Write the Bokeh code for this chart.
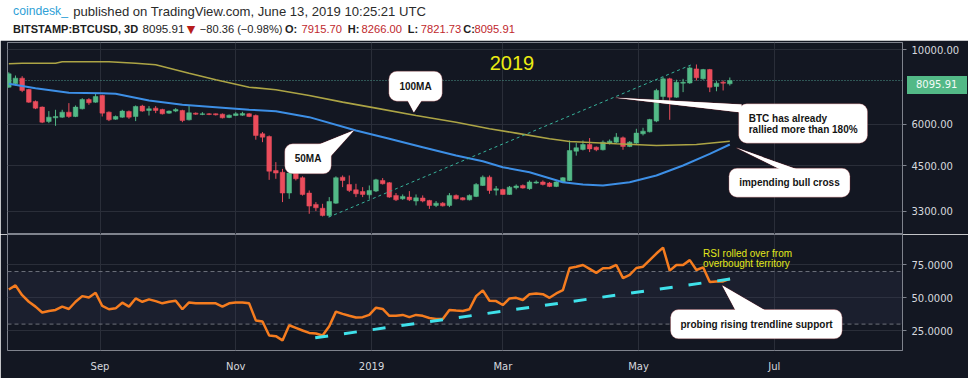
import numpy as np
import pandas as pd
from bokeh.plotting import figure
from bokeh.models import (ColumnDataSource, Range1d, FixedTicker, NumeralTickFormatter,
                          Span, BoxAnnotation, PolyAnnotation, Label, Div)
from bokeh.layouts import column
from bokeh.embed import file_html
from bokeh.resources import INLINE
from bokeh.core.properties import value

# ------------------------------------------------------------------ data
bar_start = "2018-07-22"          # first 3-day bar
bar_days = 3

opens = [7735, 7915, 8230, 7610, 7010, 6743, 6110, 6265, 6294, 6514,
         6322, 6666, 7106, 6978, 7305, 6514, 6208, 6294, 6545, 6322,
         6790, 6589, 6696, 6636, 6470, 6560, 6589, 6180, 6470, 6410,
         6440, 6440, 6425, 6280, 6365, 6380, 6440, 6365, 5613, 5510,
         4362, 4310, 3735, 4285, 4150, 3735, 3455, 3365, 3200, 3485,
         4167, 3960, 3820, 3775, 3690, 3785, 4073, 4010, 3675, 3590,
         3632, 3535, 3610, 3550, 3430, 3485, 3430, 3675, 3615, 3565,
         3650, 3935, 4167, 3810, 3830, 3700, 3875, 3935, 3850, 4000,
         4030, 4000, 3910, 4030, 4073, 4980, 5040, 5215, 5121, 5030,
         5265, 5300, 5460, 5145, 5265, 5613, 5690, 6125, 7250, 8190,
         7221, 7950, 7960, 8770, 8190, 8730, 7770, 8006, 7915.70]
highs = [8570, 8380, 8340, 7645, 7058, 6775, 6560, 6620, 6620, 6930,
         6820, 7170, 7170, 7389, 7340, 6545, 6365, 6620, 6589, 6820,
         6850, 6790, 6790, 6666, 6589, 6696, 6620, 6790, 6500, 6514,
         6470, 6455, 6455, 6410, 6514, 6530, 6470, 6410, 5680, 5550,
         4620, 4410, 4362, 4362, 4190, 3802, 3510, 3469, 3632, 4190,
         4215, 4215, 3981, 3890, 3935, 4120, 4140, 4030, 3735, 3700,
         3785, 3700, 3675, 3565, 3535, 3510, 3735, 3700, 3632, 3700,
         4000, 4215, 4215, 3920, 3850, 3920, 3963, 3963, 4073, 4073,
         4073, 4030, 4055, 4167, 5362, 5265, 5362, 5450, 5145, 5362,
         5400, 5640, 5510, 5337, 5810, 5850, 6222, 7650, 8286, 8250,
         8140, 8190, 8920, 9040, 8770, 8770, 8060, 8098, 8266.00]
lows = [7700, 7825, 7475, 6946, 6650, 6040, 6040, 5930, 6265, 6265,
        6294, 6636, 6850, 6946, 6322, 6125, 6180, 6265, 6222, 6125,
        6530, 6365, 6470, 6410, 6440, 6514, 6080, 6151, 6395, 6380,
        6380, 6365, 6237, 6250, 6337, 6350, 6294, 5390, 5300, 4090,
        4120, 3510, 3590, 4073, 3670, 3239, 3300, 3180, 3166, 3469,
        3890, 3760, 3632, 3632, 3590, 3760, 3960, 3615, 3535, 3565,
        3535, 3430, 3505, 3350, 3391, 3405, 3391, 3575, 3550, 3550,
        3632, 3920, 3716, 3675, 3690, 3690, 3830, 3850, 3820, 3981,
        3935, 3890, 3890, 4000, 4055, 4830, 5005, 4950, 4980, 5005,
        5215, 5265, 5030, 5121, 5240, 5550, 5665, 6080, 7025, 6180,
        7190, 7475, 7915, 8098, 8140, 7475, 7520, 7560, 7821.73]
closes = [8478, 8230, 7560, 6978, 6696, 6080, 6294, 6322, 6514, 6322,
          6743, 7106, 6946, 7254, 6470, 6180, 6322, 6560, 6294, 6773,
          6560, 6666, 6589, 6440, 6560, 6636, 6151, 6485, 6425, 6440,
          6410, 6395, 6265, 6380, 6440, 6455, 6322, 5550, 5486, 4340,
          4285, 3735, 4285, 4120, 3700, 3415, 3375, 3200, 3525, 4150,
          4073, 3802, 3716, 3700, 3802, 4090, 3981, 3632, 3565, 3650,
          3565, 3615, 3535, 3430, 3485, 3420, 3675, 3590, 3565, 3675,
          3963, 4167, 3802, 3845, 3700, 3890, 3920, 3865, 4030, 4030,
          3963, 3910, 4030, 4150, 5005, 5100, 5215, 5060, 5030, 5300,
          5337, 5486, 5145, 5300, 5640, 5717, 6194, 7560, 8190, 7221,
          8000, 8000, 8830, 8248, 8730, 7735, 7950, 7950, 8095.91]

ma50_bar = [0, 4, 9, 14, 16, 21, 26, 31, 36, 40, 45, 52, 57, 62, 67, 71, 74, 78,
            83, 86, 89, 93, 97, 101, 105, 108]
ma50_val = [7917, 7680, 7443, 7423, 7392, 7060, 6853, 6741, 6622, 6559, 6294, 5742,
            5424, 5120, 4834, 4650, 4462, 4311, 4025, 3962, 3935, 4025, 4214, 4515,
            4891, 5216]
ma100_bar = [0, 2, 7, 8, 15, 19, 22, 27, 31, 36, 40, 45, 50, 55, 61, 67, 72, 76,
             81, 84, 91, 97, 103, 108]
ma100_val = [9083, 9120, 9120, 9209, 9209, 9120, 9021, 8513, 8137, 7733, 7597, 7305,
             6978, 6695, 6365, 6079, 5810, 5638, 5424, 5324, 5241, 5180, 5216, 5335]

rsi = [56.3, 59.5, 52.0, 47.0, 43.3, 38.8, 40.0, 40.8, 43.3, 41.5,
       47.0, 51.3, 50.3, 53.8, 43.8, 41.3, 42.0, 46.3, 43.3, 49.5,
       47.0, 48.8, 47.5, 45.8, 47.0, 47.8, 41.3, 46.5, 45.8, 45.8,
       45.8, 45.8, 43.3, 45.8, 46.5, 46.5, 45.8, 32.8, 32.0, 21.3,
       20.8, 17.6, 29.1, 27.1, 25.1, 23.3, 22.8, 21.3, 28.3, 39.5,
       37.8, 36.3, 35.0, 35.3, 37.0, 42.5, 41.5, 36.3, 36.3, 37.0,
       35.3, 37.0, 36.3, 34.6, 33.8, 33.8, 40.8, 40.3, 40.0, 41.3,
       51.3, 55.7, 47.8, 47.5, 44.5, 49.5, 50.0, 48.3, 52.8, 53.3,
       52.8, 50.0, 53.3, 55.8, 72.7, 73.7, 75.0, 72.0, 69.0, 72.5,
       72.7, 75.0, 65.0, 67.5, 72.7, 73.7, 78.7, 83.7, 88.2, 70.7,
       75.0, 75.0, 78.7, 71.2, 73.2, 62.0, 62.5, 62.5, 64.5]

price_trend_bar = [47.9, 102.6]
price_trend_val = [3165, 9083]
rsi_trend_bar = [45.9, 108.9]
rsi_trend_val = [19.6, 64.9]

last_price = 8095.91
price_ticks = [3300, 4500, 6000, 10000]
rsi_ticks = [25, 50, 75]
rsi_levels = [30, 70]
month_ticks = ["2018-09-01", "2018-11-01", "2019-01-01", "2019-03-01", "2019-05-01", "2019-07-01"]
month_labels = ["Sep", "Nov", "2019", "Mar", "May", "Jul"]

# ------------------------------------------------------------------ style
W = 968
BG = "#131722"
GRID = "#2a2e39"
EDGE = "#7f838d"
AXT = "#d6d8de"
UP = "#53b987"
DOWN = "#eb4d5c"
BOX_EDGE = "#a8383c"
CALL_FONT = "Liberation Sans"
AX_FONT = "DejaVu Sans"

origin = pd.Timestamp(bar_start)
n = len(opens)
xs = np.arange(n) * bar_days
o = np.array(opens); c = np.array(closes)
src = ColumnDataSource(dict(
    x=xs, o=o, h=highs, l=lows, c=c,
    top=np.maximum(o, c), bottom=np.minimum(o, c),
    color=np.where(c >= o, UP, DOWN)))
month_x = [(pd.Timestamp(m) - origin).days for m in month_ticks]

x_range = Range1d(-0.584, 401.6)

def B(b):
    return np.asarray(b, dtype=float) * bar_days

# ------------------------------------------------------------------ header
header = figure(width=W, height=40, x_range=Range1d(0, W), y_range=Range1d(40, 0),
                x_axis_location=None, y_axis_location=None, toolbar_location=None,
                output_backend="svg", min_border=0, outline_line_color=None,
                background_fill_color="white", border_fill_color="white")
header.grid.grid_line_color = None
Y1, Y2 = 10.5, 28.5
segments = [
    # (x, y, text, color, style, size)
    (6, Y1, "coindesk_", "#2f9fd6", "normal", "12.2px"),
    (71, Y1, "published on TradingView.com, June 13, 2019 10:25:21 UTC", "#2b2b2b", "normal", "13.1px"),
    (6, Y2, "BITSTAMP:BTCUSD, 3D", "#1e1e1e", "bold", "11px"),
    (146, Y2, "8095.91", "#1e1e1e", "normal", "11.6px"),
    (208, Y2, "\u221280.36 (\u22120.98%)", "#1e1e1e", "normal", "11.1px"),
    (300, Y2, "O:", "#1e1e1e", "bold", "11px"),
    (318, Y2, "7915.70", "#c0282d", "normal", "11.2px"),
    (368, Y2, "H:", "#1e1e1e", "bold", "11px"),
    (383, Y2, "8266.00", "#c0282d", "normal", "11.2px"),
    (433, Y2, "L:", "#1e1e1e", "bold", "11px"),
    (447, Y2, "7821.73", "#c0282d", "normal", "11.2px"),
    (493, Y2, "C:", "#1e1e1e", "bold", "11px"),
    (505, Y2, "8095.91", "#c0282d", "normal", "11.2px"),
]
for (sx, sy, t, col, style, size) in segments:
    header.text(x=[sx], y=[sy], text=[t], text_color=col,
                text_font=value("Liberation Sans"), text_font_size=value(size),
                text_font_style=value(style), text_baseline="middle", text_align="left")
header.text(x=[194], y=[Y2], text=["\u25bc"], text_color="#b71c1c",
            text_font=value("DejaVu Sans"), text_font_size=value("11px"),
            text_baseline="middle", text_align="left")

# ------------------------------------------------------------------ price pane
price = figure(width=W, height=194, x_range=x_range, y_range=Range1d(2809, 10514),
               y_axis_type="log", y_axis_location="right", x_axis_location=None,
               toolbar_location=None, output_backend="svg",
               min_border_left=7, min_border_right=66, min_border_top=2, min_border_bottom=0,
               background_fill_color=BG, border_fill_color=BG, outline_line_color=EDGE)
ya = price.yaxis[0]
ya.ticker = FixedTicker(ticks=price_ticks, minor_ticks=[])
ya.formatter = NumeralTickFormatter(format="0.00")
price.xgrid.ticker = FixedTicker(ticks=month_x, minor_ticks=[])
price.grid.grid_line_color = GRID

def style_yaxis(ax):
    ax.axis_line_color = EDGE
    ax.major_tick_line_color = EDGE
    ax.major_tick_out = 4
    ax.major_tick_in = 0
    ax.minor_tick_line_color = None
    ax.major_label_standoff = 5
    ax.major_label_text_color = AXT
    ax.major_label_text_font = AX_FONT
    ax.major_label_text_font_size = "10px"

style_yaxis(ya)

price.add_layout(Span(location=last_price, dimension="width", line_color="#4f9a8c",
                      line_dash="1 2", line_width=1, level="underlay"))

price.segment(x0="x", y0="l", x1="x", y1="h", line_color="color", line_width=1, source=src)
price.vbar(x="x", width=2.1, top="top", bottom="bottom", fill_color="color",
           line_color="color", line_width=0.5, source=src)
price.line(B(ma100_bar), ma100_val, line_color="#aca445", line_width=1.6)
price.line(B(ma50_bar), ma50_val, line_color="#3d8fe6", line_width=2)
price.line(B(price_trend_bar), price_trend_val, line_color="#38b49c", line_width=1,
           line_dash="3 3")


def callout(fig, box, pointer):
    (l, r, t, b) = box
    pxs, pys = pointer
    fig.add_layout(PolyAnnotation(xs=list(B(pxs)), ys=pys, fill_color="white", fill_alpha=1,
                                  line_color=BOX_EDGE, line_width=1.4))
    fig.add_layout(BoxAnnotation(left=l * bar_days, right=r * bar_days, top=t, bottom=b,
                                 fill_color="white", fill_alpha=1, line_color=BOX_EDGE,
                                 line_width=1, border_radius=8))
    fig.add_layout(PolyAnnotation(xs=list(B(pxs)), ys=pys, fill_color="white", fill_alpha=1,
                                  line_color=None))


def note(fig, bx, y, text, align="center", size="10px", style="bold", color="#141414",
         font=CALL_FONT):
    fig.add_layout(Label(x=bx * bar_days, y=y, text=text, text_align=align,
                         text_baseline="middle", text_font=font, text_font_size=size,
                         text_font_style=style, text_color=color))


# 100MA
callout(price, (56.93, 64.92, 8631, 7024), ([59.67, 61.93, 60.67], [7100, 7100, 6510]))
note(price, 60.92, 7786, "100MA")
# 50MA
callout(price, (41.33, 48.3, 5241, 4264), ([46.1, 48.03, 51.67], [5180, 4770, 5742]))
note(price, 44.82, 4727, "50MA")
# BTC rallied
callout(price, (109.33, 128.63, 6899, 5263), ([109.75, 109.75, 90.87], [6866, 6497, 7191]))
note(price, 110.83, 6223, "BTC has already", align="left")
note(price, 110.83, 5772, "rallied more than 180%", align="left")
# bull cross
callout(price, (107.87, 126.0, 4431, 3631), ([115.6, 118.13, 109.0], [4391, 4391, 5098]))
note(price, 116.93, 4017, "impending bull cross")
# 2019
note(price, 75.37, 9102, "2019", size="20px", style="normal", color="#ecec12")

# ------------------------------------------------------------------ RSI pane
rp = figure(width=W, height=144, x_range=x_range, y_range=Range1d(9.9, 98.2),
            y_axis_location="right", toolbar_location=None, output_backend="svg",
            min_border_left=7, min_border_right=66, min_border_top=0, min_border_bottom=28,
            background_fill_color=BG, border_fill_color=BG, outline_line_color=EDGE)
ry = rp.yaxis[0]
ry.ticker = FixedTicker(ticks=rsi_ticks, minor_ticks=[])
ry.formatter = NumeralTickFormatter(format="0.0000")
style_yaxis(ry)
rx = rp.xaxis[0]
rx.ticker = FixedTicker(ticks=month_x, minor_ticks=[])
rx.major_label_overrides = {mx: lab for mx, lab in zip(month_x, month_labels)}
rx.axis_line_color = None
rx.major_tick_line_color = None
rx.minor_tick_line_color = None
rx.major_tick_out = 0
rx.major_tick_in = 0
rx.major_label_standoff = 10
rx.major_label_text_color = AXT
rx.major_label_text_font = AX_FONT
rx.major_label_text_font_size = "10px"
rp.grid.grid_line_color = GRID

rp.add_layout(BoxAnnotation(bottom=rsi_levels[0], top=rsi_levels[1], fill_color="#3b4160",
                            fill_alpha=0.2, line_color=None, level="underlay"))
for lv in rsi_levels:
    rp.add_layout(Span(location=lv, dimension="width", line_color="#6d717b",
                       line_dash="4 3", line_width=1, level="underlay"))

rp.line(xs, rsi, line_color="#f57c1f", line_width=2.5)
rp.line(B(rsi_trend_bar), rsi_trend_val, line_color="#3fe1ea", line_width=3,
        line_dash="13 16")

note(rp, 104.0, 83.7, "RSI rolled over from", align="left", style="normal", color="#e2e81c")
note(rp, 104.0, 76.1, "overbought territory", align="left", style="normal", color="#e2e81c")
callout(rp, (99.12, 124.83, 41.1, 18.8), ([108.87, 113.33, 106.87], [40.3, 40.3, 59.4]))
note(rp, 112.0, 29.7, "probing rising trendline support")

# ------------------------------------------------------------------ last-price tag on the axis strip
tag = Div(text=f"{last_price:.2f}", width=60, height=18,
          styles={"position": "absolute", "left": "902px", "top": "71px", "z-index": "10",
                  "background-color": UP, "color": "#f4fbf7", "font-family": "DejaVu Sans",
                  "font-size": "10px", "line-height": "18px", "padding-left": "9px",
                  "box-sizing": "border-box", "overflow": "visible", "white-space": "nowrap"})

layout = column(header, price, rp, tag, spacing=0)
open("out.html", "w").write(file_html(layout, INLINE))
